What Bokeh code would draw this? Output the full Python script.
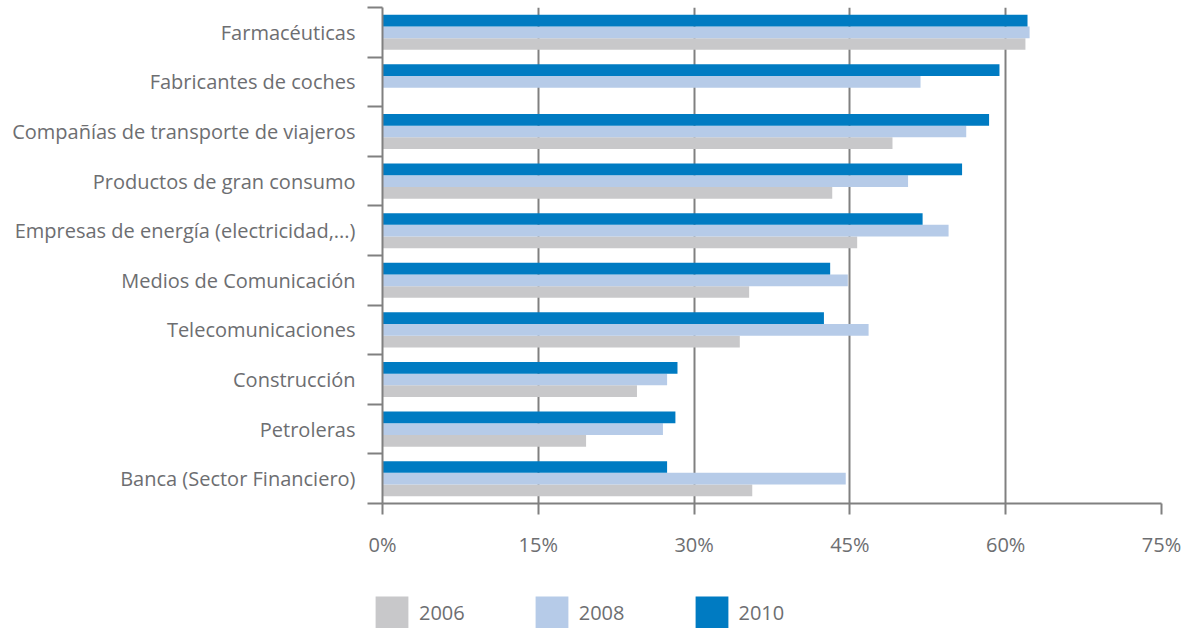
from bokeh.plotting import figure
from bokeh.layouts import column
from bokeh.models import (ColumnDataSource, Range1d, FixedTicker, Legend, LegendItem)
from bokeh.transform import dodge
from bokeh.embed import file_html
from bokeh.resources import INLINE

categories = [
    "Farmacéuticas",
    "Fabricantes de coches",
    "Compañías de transporte de viajeros",
    "Productos de gran consumo",
    "Empresas de energía (electricidad,...)",
    "Medios de Comunicación",
    "Telecomunicaciones",
    "Construcción",
    "Petroleras",
    "Banca (Sector Financiero)",
]
v2006 = [61.9, 0.0, 49.1, 43.3, 45.7, 35.3, 34.4, 24.5, 19.6, 35.6]
v2008 = [62.3, 51.8, 56.2, 50.6, 54.5, 44.8, 46.8, 27.4, 27.0, 44.6]
v2010 = [62.1, 59.4, 58.4, 55.8, 52.0, 43.1, 42.5, 28.4, 28.2, 27.4]
series_labels = ["2006", "2008", "2010"]
x_ticks = [0, 15, 30, 45, 60, 75]

FONT = "Open Sans"
TXT = "#6d6e71"
AX = "#808080"
colors = ["#c8c8ca", "#b6cbe8", "#007bc2"]

n = len(categories)
ypos = [n - 1 - i for i in range(n)]
src = ColumnDataSource(dict(y=ypos, cat=categories, a=v2006, b=v2008, c=v2010))

p = figure(width=1190, height=560, x_range=Range1d(0, 75), y_range=Range1d(-0.5, n - 0.5),
           output_backend="svg", toolbar_location=None,
           min_border_left=382, min_border_right=29, min_border_top=7, min_border_bottom=56)
p.frame_align = False
p.outline_line_color = None
p.background_fill_color = "white"

bh = 0.236
for col, off, c in zip(["a", "b", "c"], [-bh, 0, bh], colors):
    p.hbar(y=dodge("y", off, range=p.y_range), right=col, left=0, height=bh, source=src,
           fill_color=c, line_color=None)

# x axis
xa = p.xaxis[0]
xa.ticker = FixedTicker(ticks=x_ticks, minor_ticks=[])
xa.major_label_overrides = {t: f"{t}%" for t in x_ticks}
xa.axis_line_color = AX
xa.axis_line_width = 2
xa.major_tick_line_color = AX
xa.major_tick_line_width = 2
xa.major_tick_out = 11
xa.major_tick_in = 0
xa.minor_tick_line_color = None
xa.major_label_standoff = 16
xa.major_label_text_font = FONT
xa.major_label_text_font_size = "20px"
xa.major_label_text_color = TXT

# y axis
ya = p.yaxis[0]
ya.ticker = FixedTicker(ticks=ypos, minor_ticks=[k - 0.5 for k in range(n + 1)])
ya.major_label_overrides = {y: c for y, c in zip(ypos, categories)}
ya.axis_line_color = AX
ya.axis_line_width = 2
ya.major_tick_line_color = None
ya.major_tick_out = 0
ya.major_tick_in = 0
ya.minor_tick_line_color = AX
ya.minor_tick_line_width = 2
ya.minor_tick_out = 15
ya.minor_tick_in = 0
ya.major_label_standoff = 12
ya.major_label_text_font = FONT
ya.major_label_text_font_size = "20px"
ya.major_label_text_color = TXT

p.ygrid.visible = False
p.xgrid.ticker = FixedTicker(ticks=x_ticks[1:], minor_ticks=[])
p.xgrid.grid_line_color = AX
p.xgrid.grid_line_width = 2

# legend in its own strip (series renderers reused, kept outside this strip's range)
lf = figure(width=1190, height=68, x_range=Range1d(0, 1), y_range=Range1d(100, 101),
            output_backend="svg", toolbar_location=None,
            x_axis_location=None, y_axis_location=None,
            min_border_left=0, min_border_right=0, min_border_top=0, min_border_bottom=0)
lf.frame_align = False
lf.outline_line_color = None
lf.xgrid.visible = False
lf.ygrid.visible = False
items = []
for lab, col, c in zip(series_labels, ["a", "b", "c"], colors):
    r = lf.hbar(y="y", right=col, left=0, height=bh, source=src, fill_color=c, line_color=None)
    items.append(LegendItem(label=lab, renderers=[r]))
legend = Legend(items=items, orientation="horizontal", location=(371, -13),
                glyph_width=41, glyph_height=41, label_standoff=7, spacing=66,
                label_height=57,
                padding=0, margin=0, border_line_color=None, background_fill_alpha=0,
                label_text_font=FONT, label_text_font_size="20px", label_text_color=TXT,
                label_text_line_height=1.6)
lf.add_layout(legend)

layout = column(p, lf, spacing=0)
open("out.html", "w").write(file_html(layout, INLINE))
